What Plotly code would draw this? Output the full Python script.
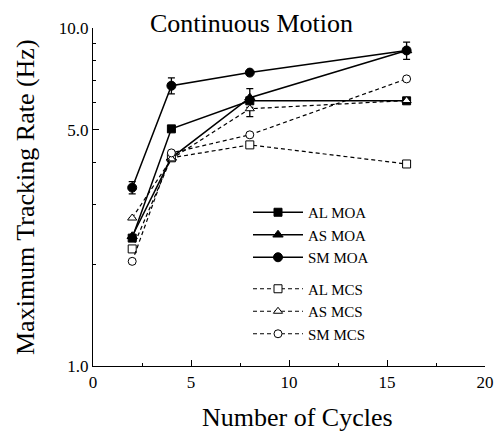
import plotly.graph_objects as go

cycles = [2, 4, 8, 16]

al_moa = [2.39, 5.03, 6.09, 6.09]
as_moa = [2.42, 4.13, 6.22, 8.58]
sm_moa = [3.37, 6.75, 7.38, 8.58]
al_mcs = [2.22, 4.13, 4.51, 3.96]
as_mcs = [2.74, 4.10, 5.77, 6.10]
sm_mcs = [2.04, 4.27, 4.83, 7.07]

sm_moa_err = [0.14, 0.37, 0.0, 0.5]
as_moa_err = [0.0, 0.0, 0.4, 0.0]
as_mcs_err = [0.0, 0.0, 0.3, 0.0]

font_family = "Liberation Serif"

fig = go.Figure()

def add(name, y, symbol, dash, group, filled=True, err=None, size=9, width=1.5):
    kw = {}
    if err is not None:
        kw["error_y"] = dict(type="data", array=err, visible=True,
                             color="black", thickness=1.3, width=3.5)
    fig.add_trace(go.Scatter(
        x=cycles, y=y, name=name, mode="lines+markers",
        line=dict(color="black", width=width, dash=dash),
        marker=dict(symbol=symbol, size=size, color="black" if filled else "white",
                    line=dict(color="black", width=1)),
        legendgroup=group, **kw))

add("AL MOA", al_moa, "square", "solid", "moa", size=8)
add("AS MOA", as_moa, "triangle-up", "solid", "moa", err=as_moa_err, size=9)
add("SM MOA", sm_moa, "circle", "solid", "moa", err=sm_moa_err, size=9)
add("AL MCS", al_mcs, "square", "4px,3px", "mcs", filled=False, size=8, width=1.2)
add("AS MCS", as_mcs, "triangle-up", "4px,3px", "mcs", filled=False, err=as_mcs_err, size=8, width=1.2)
add("SM MCS", sm_mcs, "circle", "4px,3px", "mcs", filled=False, size=8, width=1.2)

L, R, T, B = 93, 10, 28, 68
W, H = 495, 434
pw, ph = W - L - R, H - T - B

def px(xp):
    return (xp - L) / pw

def py(yp):
    return (H - B - yp) / ph

fig.update_layout(
    width=W, height=H,
    margin=dict(l=L, r=R, t=T, b=B, autoexpand=False),
    plot_bgcolor="white", paper_bgcolor="white",
    font=dict(family=font_family, size=16, color="black"),
    showlegend=True,
    legend=dict(x=px(248), y=py(196), xanchor="left", yanchor="top",
                traceorder="grouped", tracegroupgap=9,
                bgcolor="rgba(0,0,0,0)", borderwidth=0,
                font=dict(family=font_family, size=15), itemwidth=50),
    annotations=[
        dict(text="Continuous Motion", x=px(251), y=py(24),
             xref="paper", yref="paper", xanchor="center", yanchor="middle",
             showarrow=False, font=dict(family=font_family, size=26)),
        dict(text="Number of Cycles", x=px(297), y=py(418),
             xref="paper", yref="paper", xanchor="center", yanchor="middle",
             showarrow=False, font=dict(family=font_family, size=26)),
        dict(text="Maximum Tracking Rate (Hz)", x=px(25), y=py(197), textangle=-90,
             xref="paper", yref="paper", xanchor="center", yanchor="middle",
             showarrow=False, font=dict(family=font_family, size=26)),
    ],
)

fig.update_xaxes(
    range=[0, 20], tickmode="array", tickvals=[0, 5, 10, 15, 20],
    ticks="inside", ticklen=6, tickwidth=1, tickcolor="black",
    minor=dict(tickvals=[2.5, 7.5, 12.5, 17.5], ticks="inside", ticklen=3, tickcolor="black"),
    showline=True, linecolor="black", linewidth=1.2, showgrid=False, zeroline=False,
    tickfont=dict(family=font_family, size=17), automargin=False,
)
fig.update_yaxes(
    type="log", range=[0, 1], tickmode="array", tickvals=[1, 5, 10],
    ticktext=["1.0", "5.0", "10.0"],
    ticks="inside", ticklen=6, tickwidth=1, tickcolor="black",
    minor=dict(tickvals=[2, 3, 4, 6, 7, 8, 9], ticks="inside", ticklen=3, tickcolor="black"),
    showline=True, linecolor="black", linewidth=1.2, showgrid=False, zeroline=False,
    tickfont=dict(family=font_family, size=17), automargin=False,
)

fig.write_html("out.html")
